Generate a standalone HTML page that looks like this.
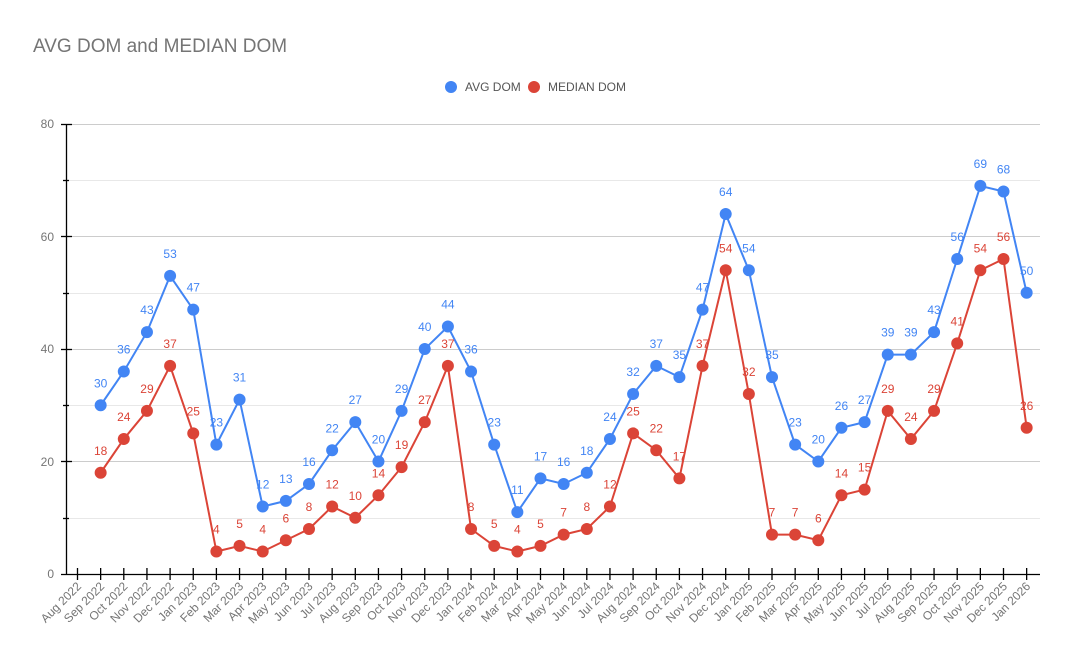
<!DOCTYPE html>
<html><head><meta charset="utf-8"><style>
html,body{margin:0;padding:0;background:#fff;}
svg{display:block;font-family:"Liberation Sans",Arial,sans-serif;}
.b text{fill:#4285f4;font-size:12px;text-anchor:middle;}
.r text{fill:#db4437;font-size:12px;text-anchor:middle;}
.xl text{fill:#757575;font-size:12px;text-anchor:end;}
</style></head><body>
<svg width="1072" height="663" viewBox="0 0 1072 663">
<text x="33" y="52" font-size="19" fill="#757575">AVG DOM and MEDIAN DOM</text>
<circle cx="451" cy="87" r="6" fill="#4285f4"/><text x="465" y="91" font-size="12" fill="#555">AVG DOM</text>
<circle cx="534" cy="87" r="6" fill="#db4437"/><text x="548" y="91" font-size="12" fill="#555">MEDIAN DOM</text>
<g stroke-width="1">
<line x1="67" x2="1040" y1="124.5" y2="124.5" stroke="#ccc"/>
<line x1="67" x2="1040" y1="180.5" y2="180.5" stroke="#e8e8e8"/>
<line x1="67" x2="1040" y1="236.5" y2="236.5" stroke="#ccc"/>
<line x1="67" x2="1040" y1="293.5" y2="293.5" stroke="#e8e8e8"/>
<line x1="67" x2="1040" y1="349.5" y2="349.5" stroke="#ccc"/>
<line x1="67" x2="1040" y1="405.5" y2="405.5" stroke="#e8e8e8"/>
<line x1="67" x2="1040" y1="461.5" y2="461.5" stroke="#ccc"/>
<line x1="67" x2="1040" y1="518.5" y2="518.5" stroke="#e8e8e8"/>
</g>
<g stroke="#000" stroke-width="1.3">
<line x1="66.5" x2="66.5" y1="124" y2="574"/>
<line x1="61" x2="1040" y1="574.5" y2="574.5"/>
<line x1="61" x2="72" y1="124.5" y2="124.5"/><line x1="63" x2="69" y1="180.5" y2="180.5"/>
<line x1="61" x2="72" y1="236.5" y2="236.5"/><line x1="63" x2="69" y1="293.5" y2="293.5"/>
<line x1="61" x2="72" y1="349.5" y2="349.5"/><line x1="63" x2="69" y1="405.5" y2="405.5"/>
<line x1="61" x2="72" y1="461.5" y2="461.5"/><line x1="63" x2="69" y1="518.5" y2="518.5"/>
<path d="M77.5 568v12M100.65 568v12M123.8 568v12M146.95 568v12M170.1 568v12M193.25 568v12M216.4 568v12M239.55 568v12M262.7 568v12M285.85 568v12M309 568v12M332.15 568v12M355.3 568v12M378.45 568v12M401.6 568v12M424.75 568v12M447.9 568v12M471.05 568v12M494.2 568v12M517.35 568v12M540.5 568v12M563.65 568v12M586.8 568v12M609.95 568v12M633.1 568v12M656.25 568v12M679.4 568v12M702.55 568v12M725.7 568v12M748.85 568v12M772 568v12M795.15 568v12M818.3 568v12M841.45 568v12M864.6 568v12M887.75 568v12M910.9 568v12M934.05 568v12M957.2 568v12M980.35 568v12M1003.5 568v12M1026.65 568v12"/>
</g>
<g font-size="12" fill="#757575" text-anchor="end">
<text x="54" y="128">80</text><text x="54" y="241">60</text><text x="54" y="353">40</text><text x="54" y="466">20</text><text x="54" y="578">0</text>
</g>
<g class="xl">
<text transform="translate(82,587) rotate(-45)">Aug 2022</text>
<text transform="translate(105.15,587) rotate(-45)">Sep 2022</text>
<text transform="translate(128.3,587) rotate(-45)">Oct 2022</text>
<text transform="translate(151.45,587) rotate(-45)">Nov 2022</text>
<text transform="translate(174.6,587) rotate(-45)">Dec 2022</text>
<text transform="translate(197.75,587) rotate(-45)">Jan 2023</text>
<text transform="translate(220.9,587) rotate(-45)">Feb 2023</text>
<text transform="translate(244.05,587) rotate(-45)">Mar 2023</text>
<text transform="translate(267.2,587) rotate(-45)">Apr 2023</text>
<text transform="translate(290.35,587) rotate(-45)">May 2023</text>
<text transform="translate(313.5,587) rotate(-45)">Jun 2023</text>
<text transform="translate(336.65,587) rotate(-45)">Jul 2023</text>
<text transform="translate(359.8,587) rotate(-45)">Aug 2023</text>
<text transform="translate(382.95,587) rotate(-45)">Sep 2023</text>
<text transform="translate(406.1,587) rotate(-45)">Oct 2023</text>
<text transform="translate(429.25,587) rotate(-45)">Nov 2023</text>
<text transform="translate(452.4,587) rotate(-45)">Dec 2023</text>
<text transform="translate(475.55,587) rotate(-45)">Jan 2024</text>
<text transform="translate(498.7,587) rotate(-45)">Feb 2024</text>
<text transform="translate(521.85,587) rotate(-45)">Mar 2024</text>
<text transform="translate(545,587) rotate(-45)">Apr 2024</text>
<text transform="translate(568.15,587) rotate(-45)">May 2024</text>
<text transform="translate(591.3,587) rotate(-45)">Jun 2024</text>
<text transform="translate(614.45,587) rotate(-45)">Jul 2024</text>
<text transform="translate(637.6,587) rotate(-45)">Aug 2024</text>
<text transform="translate(660.75,587) rotate(-45)">Sep 2024</text>
<text transform="translate(683.9,587) rotate(-45)">Oct 2024</text>
<text transform="translate(707.05,587) rotate(-45)">Nov 2024</text>
<text transform="translate(730.2,587) rotate(-45)">Dec 2024</text>
<text transform="translate(753.35,587) rotate(-45)">Jan 2025</text>
<text transform="translate(776.5,587) rotate(-45)">Feb 2025</text>
<text transform="translate(799.65,587) rotate(-45)">Mar 2025</text>
<text transform="translate(822.8,587) rotate(-45)">Apr 2025</text>
<text transform="translate(845.95,587) rotate(-45)">May 2025</text>
<text transform="translate(869.1,587) rotate(-45)">Jun 2025</text>
<text transform="translate(892.25,587) rotate(-45)">Jul 2025</text>
<text transform="translate(915.4,587) rotate(-45)">Aug 2025</text>
<text transform="translate(938.55,587) rotate(-45)">Sep 2025</text>
<text transform="translate(961.7,587) rotate(-45)">Oct 2025</text>
<text transform="translate(984.85,587) rotate(-45)">Nov 2025</text>
<text transform="translate(1008,587) rotate(-45)">Dec 2025</text>
<text transform="translate(1031.15,587) rotate(-45)">Jan 2026</text>
</g>
<polyline fill="none" stroke="#4285f4" stroke-width="2" points="100.65,405.25 123.8,371.5 146.95,332.1 170.1,275.9 193.25,309.6 216.4,444.6 239.55,399.6 262.7,506.5 285.85,500.9 309,484 332.15,450.25 355.3,422.1 378.45,461.5 401.6,410.9 424.75,349 447.9,326.5 471.05,371.5 494.2,444.6 517.35,512.1 540.5,478.4 563.65,484 586.8,472.75 609.95,439 633.1,394 656.25,365.9 679.4,377.1 702.55,309.6 725.7,214 748.85,270.25 772,377.1 795.15,444.6 818.3,461.5 841.45,427.75 864.6,422.1 887.75,354.6 910.9,354.6 934.05,332.1 957.2,259 980.35,185.9 1003.5,191.5 1026.65,292.75"/>
<polyline fill="none" stroke="#db4437" stroke-width="2" points="100.65,472.75 123.8,439 146.95,410.9 170.1,365.9 193.25,433.4 216.4,551.5 239.55,545.9 262.7,551.5 285.85,540.25 309,529 332.15,506.5 355.3,517.75 378.45,495.25 401.6,467.1 424.75,422.1 447.9,365.9 471.05,529 494.2,545.9 517.35,551.5 540.5,545.9 563.65,534.6 586.8,529 609.95,506.5 633.1,433.4 656.25,450.25 679.4,478.4 702.55,365.9 725.7,270.25 748.85,394 772,534.6 795.15,534.6 818.3,540.25 841.45,495.25 864.6,489.6 887.75,410.9 910.9,439 934.05,410.9 957.2,343.4 980.35,270.25 1003.5,259 1026.65,427.75"/>
<g fill="#4285f4">
<circle cx="100.65" cy="405.25" r="6"/><circle cx="123.8" cy="371.5" r="6"/><circle cx="146.95" cy="332.1" r="6"/><circle cx="170.1" cy="275.9" r="6"/><circle cx="193.25" cy="309.6" r="6"/><circle cx="216.4" cy="444.6" r="6"/><circle cx="239.55" cy="399.6" r="6"/><circle cx="262.7" cy="506.5" r="6"/><circle cx="285.85" cy="500.9" r="6"/><circle cx="309" cy="484" r="6"/><circle cx="332.15" cy="450.25" r="6"/><circle cx="355.3" cy="422.1" r="6"/><circle cx="378.45" cy="461.5" r="6"/><circle cx="401.6" cy="410.9" r="6"/><circle cx="424.75" cy="349" r="6"/><circle cx="447.9" cy="326.5" r="6"/><circle cx="471.05" cy="371.5" r="6"/><circle cx="494.2" cy="444.6" r="6"/><circle cx="517.35" cy="512.1" r="6"/><circle cx="540.5" cy="478.4" r="6"/><circle cx="563.65" cy="484" r="6"/><circle cx="586.8" cy="472.75" r="6"/><circle cx="609.95" cy="439" r="6"/><circle cx="633.1" cy="394" r="6"/><circle cx="656.25" cy="365.9" r="6"/><circle cx="679.4" cy="377.1" r="6"/><circle cx="702.55" cy="309.6" r="6"/><circle cx="725.7" cy="214" r="6"/><circle cx="748.85" cy="270.25" r="6"/><circle cx="772" cy="377.1" r="6"/><circle cx="795.15" cy="444.6" r="6"/><circle cx="818.3" cy="461.5" r="6"/><circle cx="841.45" cy="427.75" r="6"/><circle cx="864.6" cy="422.1" r="6"/><circle cx="887.75" cy="354.6" r="6"/><circle cx="910.9" cy="354.6" r="6"/><circle cx="934.05" cy="332.1" r="6"/><circle cx="957.2" cy="259" r="6"/><circle cx="980.35" cy="185.9" r="6"/><circle cx="1003.5" cy="191.5" r="6"/><circle cx="1026.65" cy="292.75" r="6"/>
</g>
<g fill="#db4437">
<circle cx="100.65" cy="472.75" r="6"/><circle cx="123.8" cy="439" r="6"/><circle cx="146.95" cy="410.9" r="6"/><circle cx="170.1" cy="365.9" r="6"/><circle cx="193.25" cy="433.4" r="6"/><circle cx="216.4" cy="551.5" r="6"/><circle cx="239.55" cy="545.9" r="6"/><circle cx="262.7" cy="551.5" r="6"/><circle cx="285.85" cy="540.25" r="6"/><circle cx="309" cy="529" r="6"/><circle cx="332.15" cy="506.5" r="6"/><circle cx="355.3" cy="517.75" r="6"/><circle cx="378.45" cy="495.25" r="6"/><circle cx="401.6" cy="467.1" r="6"/><circle cx="424.75" cy="422.1" r="6"/><circle cx="447.9" cy="365.9" r="6"/><circle cx="471.05" cy="529" r="6"/><circle cx="494.2" cy="545.9" r="6"/><circle cx="517.35" cy="551.5" r="6"/><circle cx="540.5" cy="545.9" r="6"/><circle cx="563.65" cy="534.6" r="6"/><circle cx="586.8" cy="529" r="6"/><circle cx="609.95" cy="506.5" r="6"/><circle cx="633.1" cy="433.4" r="6"/><circle cx="656.25" cy="450.25" r="6"/><circle cx="679.4" cy="478.4" r="6"/><circle cx="702.55" cy="365.9" r="6"/><circle cx="725.7" cy="270.25" r="6"/><circle cx="748.85" cy="394" r="6"/><circle cx="772" cy="534.6" r="6"/><circle cx="795.15" cy="534.6" r="6"/><circle cx="818.3" cy="540.25" r="6"/><circle cx="841.45" cy="495.25" r="6"/><circle cx="864.6" cy="489.6" r="6"/><circle cx="887.75" cy="410.9" r="6"/><circle cx="910.9" cy="439" r="6"/><circle cx="934.05" cy="410.9" r="6"/><circle cx="957.2" cy="343.4" r="6"/><circle cx="980.35" cy="270.25" r="6"/><circle cx="1003.5" cy="259" r="6"/><circle cx="1026.65" cy="427.75" r="6"/>
</g>
<g class="b">
<text x="100.65" y="387.25">30</text><text x="123.8" y="353.5">36</text><text x="146.95" y="314.1">43</text><text x="170.1" y="257.9">53</text><text x="193.25" y="291.6">47</text><text x="216.4" y="426.6">23</text><text x="239.55" y="381.6">31</text><text x="262.7" y="488.5">12</text><text x="285.85" y="482.9">13</text><text x="309" y="466">16</text><text x="332.15" y="432.25">22</text><text x="355.3" y="404.1">27</text><text x="378.45" y="443.5">20</text><text x="401.6" y="392.9">29</text><text x="424.75" y="331">40</text><text x="447.9" y="308.5">44</text><text x="471.05" y="353.5">36</text><text x="494.2" y="426.6">23</text><text x="517.35" y="494.1">11</text><text x="540.5" y="460.4">17</text><text x="563.65" y="466">16</text><text x="586.8" y="454.75">18</text><text x="609.95" y="421">24</text><text x="633.1" y="376">32</text><text x="656.25" y="347.9">37</text><text x="679.4" y="359.1">35</text><text x="702.55" y="291.6">47</text><text x="725.7" y="196">64</text><text x="748.85" y="252.25">54</text><text x="772" y="359.1">35</text><text x="795.15" y="426.6">23</text><text x="818.3" y="443.5">20</text><text x="841.45" y="409.75">26</text><text x="864.6" y="404.1">27</text><text x="887.75" y="336.6">39</text><text x="910.9" y="336.6">39</text><text x="934.05" y="314.1">43</text><text x="957.2" y="241">56</text><text x="980.35" y="167.9">69</text><text x="1003.5" y="173.5">68</text><text x="1026.65" y="274.75">50</text>
</g>
<g class="r">
<text x="100.65" y="454.75">18</text><text x="123.8" y="421">24</text><text x="146.95" y="392.9">29</text><text x="170.1" y="347.9">37</text><text x="193.25" y="415.4">25</text><text x="216.4" y="533.5">4</text><text x="239.55" y="527.9">5</text><text x="262.7" y="533.5">4</text><text x="285.85" y="522.25">6</text><text x="309" y="511">8</text><text x="332.15" y="488.5">12</text><text x="355.3" y="499.75">10</text><text x="378.45" y="477.25">14</text><text x="401.6" y="449.1">19</text><text x="424.75" y="404.1">27</text><text x="447.9" y="347.9">37</text><text x="471.05" y="511">8</text><text x="494.2" y="527.9">5</text><text x="517.35" y="533.5">4</text><text x="540.5" y="527.9">5</text><text x="563.65" y="516.6">7</text><text x="586.8" y="511">8</text><text x="609.95" y="488.5">12</text><text x="633.1" y="415.4">25</text><text x="656.25" y="432.25">22</text><text x="679.4" y="460.4">17</text><text x="702.55" y="347.9">37</text><text x="725.7" y="252.25">54</text><text x="748.85" y="376">32</text><text x="772" y="516.6">7</text><text x="795.15" y="516.6">7</text><text x="818.3" y="522.25">6</text><text x="841.45" y="477.25">14</text><text x="864.6" y="471.6">15</text><text x="887.75" y="392.9">29</text><text x="910.9" y="421">24</text><text x="934.05" y="392.9">29</text><text x="957.2" y="325.4">41</text><text x="980.35" y="252.25">54</text><text x="1003.5" y="241">56</text><text x="1026.65" y="409.75">26</text>
</g>
</svg>
</body></html>
